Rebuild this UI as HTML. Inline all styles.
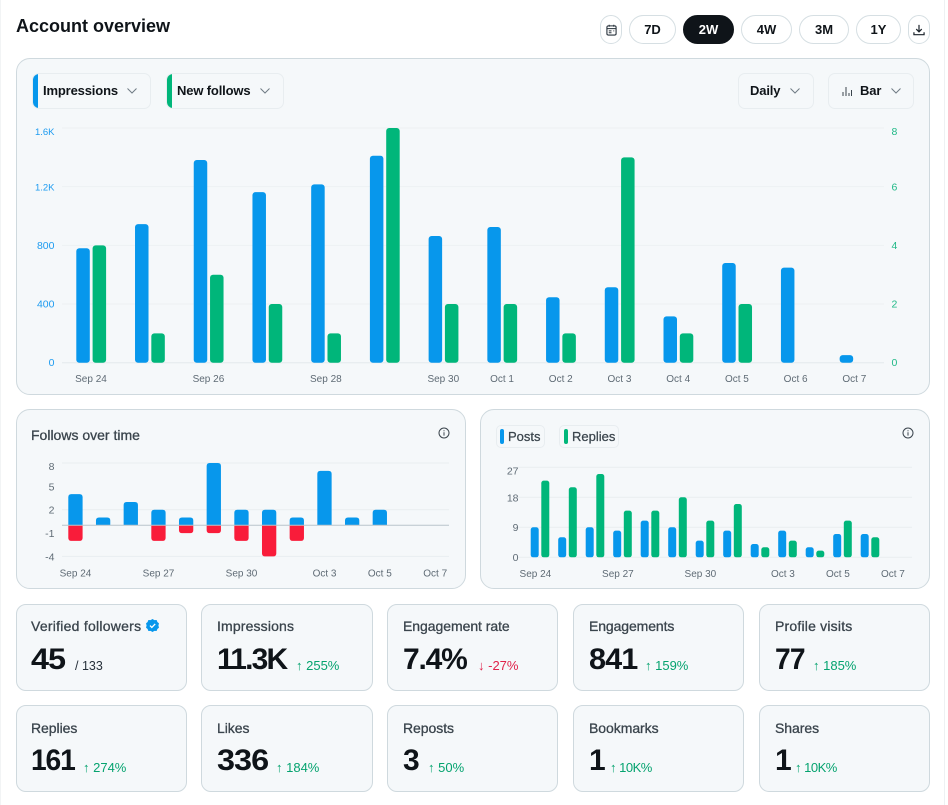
<!DOCTYPE html>
<html lang="en">
<head>
<meta charset="utf-8">
<title>Account overview</title>
<style>
html,body{margin:0;padding:0;background:#fff}
body{position:relative;width:948px;height:805px;overflow:hidden;font-family:"Liberation Sans",sans-serif;color:#0f1419}
.abs{position:absolute;box-sizing:border-box}
.panel{background:#f5f8fa;border:1px solid #cfd9de;border-radius:14px}
.pill{border:1px solid #d6dfe3;border-radius:15px;background:#fff;font-size:13px;font-weight:bold;display:flex;align-items:center;justify-content:center;top:15px;height:29px}
.pill.on{background:#0f1419;color:#fff;border-color:#0f1419}
.dd{top:73px;height:36px;border:1px solid #e8edf0;border-radius:7px;font-size:13px;font-weight:bold;line-height:34px;overflow:hidden;background:#f5f8fa;letter-spacing:-.15px}
.dd i{position:absolute;left:-1px;top:-1px;bottom:-1px;width:6px}
.dd span{position:absolute;top:0;white-space:nowrap}
.chev{position:absolute;top:12px;width:10px;height:10px}
.card{background:#f5f8fa;border:1px solid #cfd9de;border-radius:10px;height:87px}
.card .lbl{position:absolute;left:14px;top:13px;font-size:14px;color:#3a444c;white-space:nowrap;letter-spacing:-.05px;-webkit-text-stroke:.3px #3a444c}
.card .num{position:absolute;left:14px;top:37px;font-size:30px;font-weight:bold;line-height:36px;letter-spacing:-.9px;white-space:nowrap;transform-origin:left center}
.card .chg{position:absolute;top:53px;font-size:13px;line-height:16px;white-space:nowrap;color:#05a36f}
.card .chg.neg{color:#e0224a}
.card .sub{position:absolute;top:53px;font-size:12.5px;line-height:16px;white-space:nowrap;color:#26303a}
.row2 .lbl{top:14px}
.row2 .chg{top:54px}
svg.chart{position:absolute;overflow:visible}
svg text{font-family:"Liberation Sans",sans-serif}
.info{position:absolute;width:12px;height:12px}
</style>
</head>
<body>
<div class="abs" style="left:0;top:0;width:1px;height:805px;background:#f2f4f5"></div>
<div class="abs" style="left:944px;top:0;width:1px;height:805px;background:#eef1f3"></div>

<div class="abs" style="left:16px;top:15px;font-size:18px;font-weight:bold;line-height:22px;white-space:nowrap">Account overview</div>

<div class="abs pill" style="left:600px;width:22px">
<svg width="11" height="12" viewBox="0 0 12 13"><rect x="1" y="2" width="10" height="10" rx="1.5" fill="none" stroke="#26303a" stroke-width="1.2"/><path d="M1 5h10M3.5 .8v2.2M8.5 .8v2.2M3 7.5h3M3 9.5h3M8 7.5h1" stroke="#26303a" stroke-width="1.1" fill="none"/></svg>
</div>
<div class="abs pill" style="left:629px;width:47px">7D</div>
<div class="abs pill on" style="left:683px;width:51px">2W</div>
<div class="abs pill" style="left:741px;width:51px">4W</div>
<div class="abs pill" style="left:799px;width:50px">3M</div>
<div class="abs pill" style="left:856px;width:45px">1Y</div>
<div class="abs pill" style="left:908px;width:22px">
<svg width="12" height="12" viewBox="0 0 13 13"><path d="M6.5 1v7M3.5 5.5l3 3 3-3M1 9v2.6h11V9" fill="none" stroke="#1b232b" stroke-width="1.3"/></svg>
</div>

<div class="abs panel" style="left:16px;top:58px;width:914px;height:337px"></div>

<div class="abs dd" style="left:32px;width:119px"><i style="background:#0797ec"></i><span style="left:10px">Impressions</span><svg class="chev" style="left:94px" viewBox="0 0 10 10"><path d="M.5 2.500L5 7 9.500 2.500" fill="none" stroke="#6f7b84" stroke-width="1"/></svg></div>
<div class="abs dd" style="left:166px;width:118px"><i style="background:#00b67a"></i><span style="left:10px">New follows</span><svg class="chev" style="left:93px" viewBox="0 0 10 10"><path d="M.5 2.500L5 7 9.500 2.500" fill="none" stroke="#6f7b84" stroke-width="1"/></svg></div>
<div class="abs dd" style="left:738px;width:76px"><span style="left:11px">Daily</span><svg class="chev" style="left:51px" viewBox="0 0 10 10"><path d="M.5 2.500L5 7 9.500 2.500" fill="none" stroke="#6f7b84" stroke-width="1"/></svg></div>
<div class="abs dd" style="left:828px;width:86px"><svg style="position:absolute;left:13px;top:12px" width="10" height="10" viewBox="0 0 10 10"><path d="M1 10V6M4 10V1M7 10V7M9.500 10V4" stroke="#3a444c" stroke-width="1" fill="none"/></svg><span style="left:31px">Bar</span><svg class="chev" style="left:62px" viewBox="0 0 10 10"><path d="M.5 2.500L5 7 9.500 2.500" fill="none" stroke="#6f7b84" stroke-width="1"/></svg></div>

<svg class="chart" id="main-chart" style="left:16px;top:110px" width="914" height="285" viewBox="16 110 914 285"></svg>

<div class="abs panel" style="left:16px;top:409px;width:450px;height:180px"></div>
<div class="abs" style="left:31px;top:427px;font-size:14px;line-height:16px;color:#3a444c;white-space:nowrap;-webkit-text-stroke:.3px #3a444c">Follows over time</div>
<svg class="info" style="left:438px;top:427px" viewBox="0 0 12 12"><circle cx="6" cy="6" r="5" fill="none" stroke="#3a444c" stroke-width="1"/><path d="M6 5.200v3.400M6 3.200v1" stroke="#3a444c" stroke-width="1"/></svg>
<svg class="chart" id="follows-chart" style="left:16px;top:450px" width="450" height="139" viewBox="16 450 450 139"></svg>

<div class="abs panel" style="left:480px;top:409px;width:450px;height:180px"></div>
<div class="abs" style="left:496px;top:425px;width:49px;height:23px;border:1px solid #e8edf0;border-radius:5px;box-sizing:border-box"><i style="position:absolute;left:3px;top:3px;width:4px;height:15px;border-radius:2px;background:#0797ec"></i><span style="position:absolute;left:11px;top:2px;font-size:13px;line-height:17px;color:#3a444c;-webkit-text-stroke:.25px #3a444c">Posts</span></div>
<div class="abs" style="left:559px;top:425px;width:60px;height:23px;border:1px solid #e8edf0;border-radius:5px;box-sizing:border-box"><i style="position:absolute;left:4px;top:3px;width:4px;height:15px;border-radius:2px;background:#00b67a"></i><span style="position:absolute;left:12px;top:2px;font-size:13px;line-height:17px;color:#3a444c;-webkit-text-stroke:.25px #3a444c">Replies</span></div>
<svg class="info" style="left:902px;top:427px" viewBox="0 0 12 12"><circle cx="6" cy="6" r="5" fill="none" stroke="#3a444c" stroke-width="1"/><path d="M6 5.200v3.400M6 3.200v1" stroke="#3a444c" stroke-width="1"/></svg>
<svg class="chart" id="posts-chart" style="left:480px;top:450px" width="450" height="139" viewBox="480 450 450 139"></svg>

<div class="abs card" style="left:16px;top:604px;width:171px"><span class="lbl" style="letter-spacing:.25px">Verified followers</span><svg style="position:absolute;left:129px;top:14px" width="13" height="13" viewBox="0 0 13 13"><path d="M6.500 0l1.900 1.100 2.200-.1.800 2 1.600 1.400-.6 2.100.6 2.100-1.600 1.400-.8 2-2.200-.1L6.500 13l-1.900-1.100-2.200.1-.8-2L0 8.600l.6-2.100L0 4.400 1.600 3l.8-2 2.200.1z" fill="#0797ec"/><path d="M4 6.600l1.800 1.800L9.200 4.900" fill="none" stroke="#fff" stroke-width="1.300"/></svg><span class="num" style="transform:scaleX(1.08)">45</span><span class="sub" style="left:58px">/ 133</span></div>
<div class="abs card" style="left:201px;top:604px;width:172px"><span class="lbl" style="left:15px;letter-spacing:.15px">Impressions</span><span class="num" style="left:15px;letter-spacing:-1.800px">11.3K</span><span class="chg" style="left:94px">↑ 255%</span></div>
<div class="abs card" style="left:387px;top:604px;width:171px"><span class="lbl" style="left:15px">Engagement rate</span><span class="num" style="left:15px;letter-spacing:-1.200px">7.4%</span><span class="chg neg" style="left:90px">↓ -27%</span></div>
<div class="abs card" style="left:573px;top:604px;width:171px"><span class="lbl" style="left:15px;letter-spacing:-.1px">Engagements</span><span class="num" style="left:15px;transform:scaleX(1.02)">841</span><span class="chg" style="left:71px">↑ 159%</span></div>
<div class="abs card" style="left:759px;top:604px;width:171px"><span class="lbl" style="left:15px;letter-spacing:.2px">Profile visits</span><span class="num" style="left:15px;transform:scaleX(.94)">77</span><span class="chg" style="left:53px">↑ 185%</span></div>

<div class="abs card row2" style="left:16px;top:705px;width:171px"><span class="lbl">Replies</span><span class="num" style="letter-spacing:-1.200px;transform:scaleX(.94)">161</span><span class="chg" style="left:66px">↑ 274%</span></div>
<div class="abs card row2" style="left:201px;top:705px;width:172px"><span class="lbl" style="left:15px">Likes</span><span class="num" style="left:15px;transform:scaleX(1.08)">336</span><span class="chg" style="left:74px">↑ 184%</span></div>
<div class="abs card row2" style="left:387px;top:705px;width:171px"><span class="lbl" style="left:15px">Reposts</span><span class="num" style="left:15px">3</span><span class="chg" style="left:40px">↑ 50%</span></div>
<div class="abs card row2" style="left:573px;top:705px;width:171px"><span class="lbl" style="left:15px">Bookmarks</span><span class="num" style="left:15px">1</span><span class="chg" style="left:36px;letter-spacing:-.5px">↑ 10K%</span></div>
<div class="abs card row2" style="left:759px;top:705px;width:171px"><span class="lbl" style="left:15px">Shares</span><span class="num" style="left:15px">1</span><span class="chg" style="left:35px;letter-spacing:-.5px">↑ 10K%</span></div>

<script>
// Main chart data
const mainDates = ["Sep 24","","Sep 26","","Sep 28","","Sep 30","Oct 1","Oct 2","Oct 3","Oct 4","Oct 5","Oct 6","Oct 7"];
const impressions = [780,945,1382,1163,1216,1411,864,925,446,514,316,680,648,52];
const newFollows = [4,1,3,2,1,8,2,2,1,7,1,2,0,0];
const impressionTicks = [0,400,800,1200,1600];
const impressionTickLabels = ["0","400","800","1.2K","1.6K"];
const followTicks = [0,2,4,6,8];

// Follows over time data
const followsDates = ["Sep 24","","","Sep 27","","","Sep 30","","","Oct 3","","Oct 5","","Oct 7"];
const followsGained = [4,1,3,2,1,8,2,2,1,7,1,2,0,0];
const followsLost = [-2,0,0,-2,-1,-1,-2,-4,-2,0,0,0,0,0];
const followsTicks = [8,5,2,-1,-4];
const followsGrid = [8,2,-4];

// Posts and replies data
const postsDates = ["Sep 24","","","Sep 27","","","Sep 30","","","Oct 3","","Oct 5","","Oct 7"];
const posts = [9,6,9,8,11,9,5,8,4,8,3,7,7];
const replies = [23,21,25,14,14,18,11,16,3,5,2,11,6];
const postsTicks = [0,9,18,27];

const NS = "http://www.w3.org/2000/svg";
const BLUE = "#0797ec", GREEN = "#00b67a", RED = "#f91c3a";

function svgEl(parent, tag, attrs) {
  const el = document.createElementNS(NS, tag);
  for (const k in attrs) el.setAttribute(k, attrs[k]);
  parent.appendChild(el);
  return el;
}
function addLabel(parent, x, y, str, anchor, size, fill, name) {
  const el = svgEl(parent, "text", {x: x, y: y, "text-anchor": anchor, "font-size": size, fill: fill});
  el.textContent = str;
  
  
  return el;
}
function addLine(parent, x1, x2, y, stroke, name) {
  const el = svgEl(parent, "line", {x1: x1, x2: x2, y1: y, y2: y, stroke: stroke, "stroke-width": 1});
  
  
  return el;
}
function addBar(parent, x, w, y1, y2, r, fill, name) {
  const top = Math.min(y1, y2), h = Math.abs(y2 - y1);
  const el = svgEl(parent, "rect", {x: x, y: top, width: w, height: h, rx: Math.min(r, h / 2), fill: fill});
  
  
  return el;
}
function addEndBar(parent, x, w, y0, y1, r, fill, name) {
  const dir = y1 < y0 ? 1 : -1;
  const d = "M" + x + " " + y0 + "V" + (y1 + dir * r) +
    "Q" + x + " " + y1 + " " + (x + r) + " " + y1 +
    "H" + (x + w - r) +
    "Q" + (x + w) + " " + y1 + " " + (x + w) + " " + (y1 + dir * r) +
    "V" + y0 + "Z";
  const el = svgEl(parent, "path", {d: d, fill: fill});
  
  
  return el;
}

// Main chart
(function () {
  const svg = document.getElementById("main-chart");
  const xBand = i => 76.3 + i * 58.72;
  const yLeft = v => 362.7 - (v / 1600) * 234.7;
  const yRight = v => 362.7 - (v / 8) * 234.7;
  impressionTicks.forEach((t, i) => {
    const lab = impressionTickLabels[i];
    addLine(svg, 62, 884, yLeft(t), t === 0 ? "#e3e9ec" : "#edf1f3", "main-gridline");
    addLabel(svg, 54.5, yLeft(t) + (t === 1600 ? 7 : t === 1200 ? 4 : 3.500), lab, "end", lab.indexOf("K") >= 0 ? 9.5 : 10.5, "#1d9bf0", "impressions-axis-tick");
  });
  followTicks.forEach(t => {
    addLabel(svg, 891.5, yRight(t) + (t === 8 ? 7 : t === 6 ? 4 : 3.500), String(t), "start", 10.5, "#1fb886", "follows-axis-tick");
  });
  mainDates.forEach((d, i) => {
    if (d) addLabel(svg, xBand(i) + 14.7, 382, d, "middle", 10, "#5f6b75", "main-date-label");
    if (impressions[i] > 0) addBar(svg, xBand(i), 13.5, yLeft(impressions[i]), yLeft(0), 3, BLUE, "impressions-bar");
    if (newFollows[i] > 0) addBar(svg, xBand(i) + 16.3, 13.5, yRight(newFollows[i]), yRight(0), 3, GREEN, "new-follows-bar");
  });
})();

// Follows over time chart
(function () {
  const svg = document.getElementById("follows-chart");
  const xBand = i => 68.3 + i * 27.67;
  const y = v => 525.3 - v * 7.78;
  followsGrid.forEach(t => addLine(svg, 62, 449, y(t), "#e9eef0", "follows-gridline"));
  followsTicks.forEach(t => {
    addLabel(svg, 54.5, y(t) + (t === 8 ? 7 : 4), String(t), "end", 10.5, "#5f6b75", "follows-y-tick");
  });
  followsDates.forEach((d, i) => {
    if (d) addLabel(svg, xBand(i) + 7.2, 576.500, d, "middle", 10, "#5f6b75", "follows-date-label");
    if (followsGained[i] > 0) addEndBar(svg, xBand(i), 14.3, y(0), y(followsGained[i]), 3, BLUE, "followers-gained-bar");
    if (followsLost[i] < 0) addEndBar(svg, xBand(i), 14.3, y(0), y(followsLost[i]), 3, RED, "followers-lost-bar");
  });
  addLine(svg, 62, 449, y(0), "#b9c4cb", "follows-zero-line");
})();

// Posts and replies chart
(function () {
  const svg = document.getElementById("posts-chart");
  const xBand = i => 530.7 + i * 27.5;
  const y = v => 557.3 - v * 3.333;
  postsTicks.forEach(t => {
    addLine(svg, 518, 912, y(t), "#e9eef0", "posts-gridline");
    addLabel(svg, 518.5, y(t) + (t === 27 ? 7 : t === 18 ? 4 : 3.500), String(t), "end", 10.5, "#5f6b75", "posts-y-tick");
  });
  postsDates.forEach((d, i) => {
    if (d) addLabel(svg, xBand(i) + 4.7, 577, d, "middle", 10, "#5f6b75", "posts-date-label");
  });
  posts.forEach((v, i) => addBar(svg, xBand(i), 8, y(v), y(0), 2.5, BLUE, "posts-bar"));
  replies.forEach((v, i) => addBar(svg, xBand(i) + 10.6, 8, y(v), y(0), 2.5, GREEN, "replies-bar"));
})();
</script>
</body>
</html>
